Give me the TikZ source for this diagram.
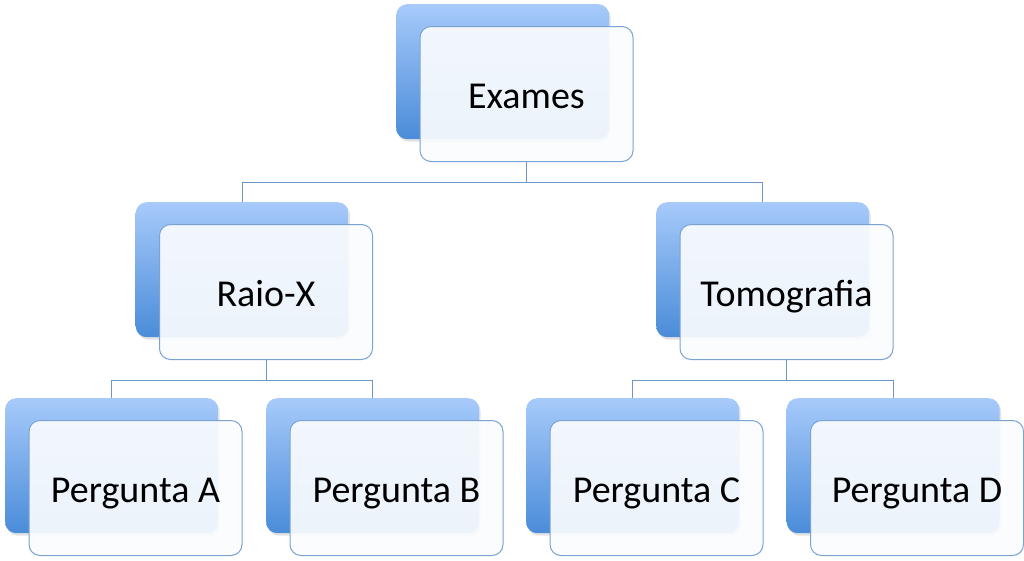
\documentclass[tikz,border=0pt]{standalone}
\usepackage{fontspec}
\setmainfont{Carlito}
\usetikzlibrary{shadows}
\definecolor{backtop}{HTML}{A7CAFA}
\definecolor{backbot}{HTML}{4A8CD9}
\definecolor{frontfill}{HTML}{FAFCFE}
\definecolor{frontline}{HTML}{7AA3D3}
\definecolor{connline}{HTML}{6E97C9}
\tikzset{
  backbox/.style={rectangle, rounded corners=11pt, minimum width=213pt, minimum height=135pt,
    inner sep=0pt, anchor=north west, top color=backtop, bottom color=backbot, draw=none,
    drop shadow={opacity=0.22, shadow xshift=1.5pt, shadow yshift=-2.5pt}},
  frontbox/.style={rectangle, rounded corners=11pt, minimum width=213pt, minimum height=135pt,
    inner sep=0pt, anchor=north west, fill=frontfill, fill opacity=0.92, text opacity=1,
    draw=frontline, line width=1pt, font=\fontsize{38}{42}\selectfont,
    text height=28.5pt, text depth=0pt},
  conn/.style={draw=connline, line width=1pt}
}
\begin{document}
\begin{tikzpicture}[x=1pt,y=-1pt]
\useasboundingbox (0,0) rectangle (1024,560);
% level 0
\node[backbox] (exb) at (396,4) {};
\node[frontbox] (ex) at (419.5,26) {Exames};
% level 1
\node[backbox] (rxb) at (135.5,202) {};
\node[frontbox] (rx) at (159,224) {Raio-X};
\node[backbox] (tob) at (656,202) {};
\node[frontbox] (to) at (679.5,224) {Tomografia};
% level 2
\node[backbox] (pab) at (5,398) {};
\node[frontbox] (pa) at (28.5,420) {Pergunta A};
\node[backbox] (pbb) at (266,398) {};
\node[frontbox] (pb) at (289.5,420) {Pergunta B};
\node[backbox] (pcb) at (526,398) {};
\node[frontbox] (pc) at (549.5,420) {Pergunta C};
\node[backbox] (pdb) at (786.5,398) {};
\node[frontbox] (pd) at (810,420) {Pergunta D};
% connectors
\draw[conn] (ex.south) -- ++(0,20) -| (rxb.north);
\draw[conn] (ex.south) -- ++(0,20) -| (tob.north);
\draw[conn] (rx.south) -- ++(0,20) -| (pab.north);
\draw[conn] (rx.south) -- ++(0,20) -| (pbb.north);
\draw[conn] (to.south) -- ++(0,20) -| (pcb.north);
\draw[conn] (to.south) -- ++(0,20) -| (pdb.north);
\end{tikzpicture}
\end{document}
